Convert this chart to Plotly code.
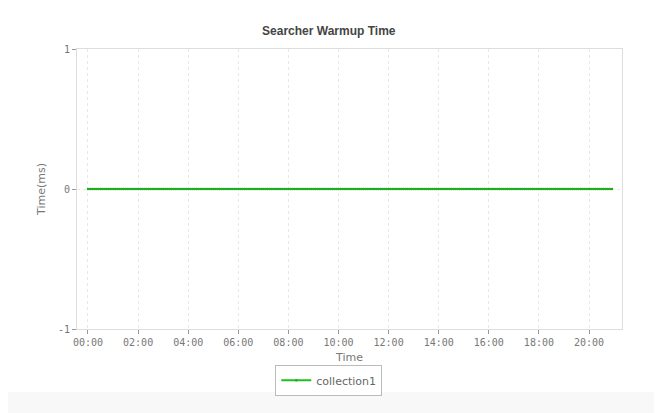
import pandas as pd
import plotly.graph_objects as go

# ===============================
# Datos
# ===============================

serie = "collection1"
inicio = "2024-01-01 00:00"
fin = "2024-01-01 20:55"
paso = "5min"

tiempos = pd.date_range(inicio, fin, freq=paso)
valores = [0] * len(tiempos)  # el tiempo de warmup es 0 ms en todo el rango

etiquetas_y = ["-1", "0", "1"]
ticks_y = [-1, 0, 1]

# ===============================
# Figura
# ===============================

fig = go.Figure()

fig.add_trace(go.Scatter(
    x=tiempos,
    y=valores,
    mode="lines+markers",
    line=dict(color="#1ec01e", width=2),
    marker=dict(color="#22aa22", size=2.5),
    name=serie
))

gris = "#dddddd"
fuente_ticks = dict(family="DejaVu Sans Mono, monospace", size=10, color="#777777")
fuente_titulos = dict(family="DejaVu Sans, Verdana, sans-serif", size=11, color="#777777")

# la pagina tiene 8px de margen en el body, se descuenta aqui
fig.update_layout(
    width=654,
    height=405,
    margin=dict(l=69, r=40, t=41, b=84, autoexpand=False),
    paper_bgcolor="white",
    plot_bgcolor="white",
    title=dict(
        text="<b>Searcher Warmup Time</b>",
        x=0.462, xref="paper", xanchor="center",
        y=0.943, yref="container", yanchor="middle",
        font=dict(family="Liberation Sans, Arial, sans-serif", size=12, color="#444444")
    ),
    xaxis=dict(
        range=["2023-12-31 23:33:40", "2024-01-01 21:19:00"],
        tickformat="%H:%M",
        dtick=2 * 3600 * 1000,
        tick0="2024-01-01 00:00",
        showgrid=True, gridcolor="#e8e8e8", griddash="3px,3px", gridwidth=1,
        showline=True, linecolor=gris, mirror=True,
        ticks="outside", ticklen=4, tickcolor="#999999",
        tickfont=fuente_ticks,
        zeroline=False, automargin=False,
        title=dict(text="Time", font=fuente_titulos, standoff=6)
    ),
    yaxis=dict(
        range=[-1, 1],
        tickvals=ticks_y,
        ticktext=etiquetas_y,
        showgrid=True, gridcolor="#e8e8e8", griddash="3px,3px", gridwidth=1,
        showline=True, linecolor=gris, mirror=True,
        ticks="outside", ticklen=4, tickcolor="#999999",
        tickfont=fuente_ticks,
        zeroline=False, automargin=False,
        title=dict(text="Time(ms)", font=fuente_titulos, standoff=10)
    ),
    showlegend=True,
    legend=dict(
        orientation="h",
        x=0.462, xanchor="center",
        y=-0.128, yanchor="top",
        bordercolor="#bbbbbb", borderwidth=1,
        font=dict(family="DejaVu Sans, Verdana, sans-serif", size=11, color="#666666"),
        itemwidth=30, tracegroupgap=0
    ),
    shapes=[
        # franja gris inferior de la pagina
        dict(type="rect", xref="paper", yref="paper",
             x0=-0.2, x1=1.2, y0=-0.31, y1=-0.225,
             fillcolor="#f8f8f8", line=dict(width=0), layer="below"),
        # borde derecho de la pagina
        dict(type="rect", xref="paper", yref="paper",
             x0=1.07, x1=1.2, y0=-0.31, y1=1.2,
             fillcolor="#f3f3f3", line=dict(width=0), layer="below"),
    ]
)

fig.write_html("out.html")
